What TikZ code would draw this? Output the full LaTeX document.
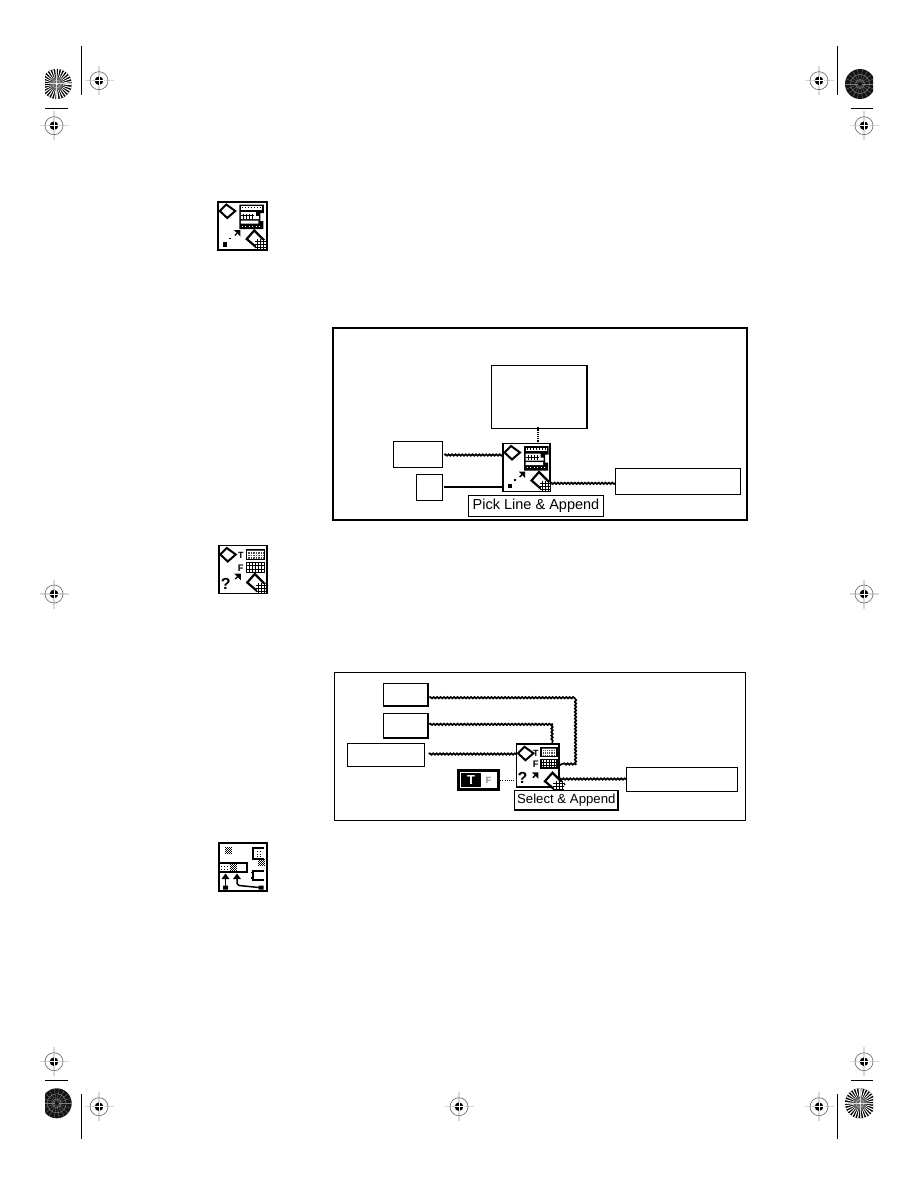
\documentclass[tikz,border=0pt]{standalone}
\usepackage{fontspec}
\setmainfont{Liberation Sans}
\usetikzlibrary{decorations.pathmorphing}
\tikzset{
  x=1pt,y=-1pt,
  box/.style={draw=black,fill=white,line width=1.3pt,inner sep=0pt,outer sep=0pt,rectangle},
  frame/.style={draw=black,line width=1.9pt},
  iconbox/.style={draw=black,fill=white,line width=1.6pt,inner sep=0pt,outer sep=0pt,rectangle},
  lbl/.style={draw=black,fill=white,line width=1pt,inner sep=0pt,outer sep=0pt,font=\fontsize{14.5}{14.5}\selectfont},
  strwire/.style={line width=1.7pt,decorate,decoration={snake,segment length=3.4pt,amplitude=0.7pt}},
  dblwire/.style={line width=1.7pt},
  dotwire/.style={line width=1pt,dash pattern=on 1pt off 1.2pt},
  fatdot/.style={line width=2.8pt,dash pattern=on 1.2pt off 1pt},
  crop/.style={line width=1pt,black},
  hairc/.style={line width=1.1pt,black!15},
  ringc/.style={line width=.6pt,black!60},
  iconln/.style={line width=2pt,black},
  pics/regmark/.style={code={
    \draw[hairc] (-14.5,0)--(14.5,0) (0,-14.5)--(0,14.5);
    \draw[ringc] (0,0) circle[radius=9];
    \fill[black] (0,0) circle[radius=4.3];
    \draw[white,line width=.7pt] (-4.5,0)--(4.5,0) (0,-4.5)--(0,4.5);
  }},
  pics/raystar/.style={code={
    \fill[black] (0,0) circle[radius=15];
    \foreach \a in {0,12,...,348}{
      \fill[white] (0,0) -- (\a:15) arc[start angle=\a,end angle=\a+5,radius=15] -- cycle;
    }
    \fill[black!60] (0,0) circle[radius=6.5];
    \draw[black!35,line width=.8pt] (0,0) circle[radius=4];
    \draw[white!85!black,line width=1pt] (-15,0)--(15,0) (0,-15)--(0,15);
    \fill[white] (0,0) circle[radius=1.3];
  }},
  pics/darkstar/.style={code={
    \fill[black!92] (0,0) circle[radius=15];
    \foreach \a in {0,20,...,340}{
      \draw[black!50,line width=.3pt] (\a:2)--(\a:15);
    }
    \draw[black!50,line width=.5pt] (0,0) circle[radius=4.5] (0,0) circle[radius=9.5];
  }},
  pics/updiamond/.style={code={
    \draw[iconln,fill=white,line join=miter] (1.5,9)--(8,2.5)--(17,9)--(9,16)--cycle;
  }},
  pics/lowdiamond/.style={code={
    \draw[iconln,line width=2.2pt,fill=white] (28.5,37)--(36,28.5)--(47.5,40)--(40,47)--cycle;
    \fill[white] (38,38) rectangle (47.3,47.3);
    \draw[black,line width=.9pt] (37,39.5)--(47.3,39.5) (37,42.5)--(47.3,42.5) (37,45.5)--(47.3,45.5)
       (39.5,37)--(39.5,47.3) (42.5,37)--(42.5,47.3) (45.5,37)--(45.5,47.3);
  }},
  pics/arrowdot/.style={code={
    \fill[black] (15.5,28) -- (22,28) -- (22,34.5) -- cycle;
    \draw[black,line width=1.4pt] (19,31)--(16.5,33.5);
  }},
  pics/pickicon/.style={code={
    \pic {updiamond};
    \pic {lowdiamond};
    \pic {arrowdot};
    \fill[black] (5,40) rectangle (9,44.5);
    \fill[black] (11,35.5) rectangle (12.5,37);
    \fill[black] (21,2.5) rectangle (45.5,11) (21,11) rectangle (42,19) (21,19) rectangle (45,27);
    \fill[white] (22.5,4) rectangle (44,7.5);
    \foreach \k in {23.5,26.5,...,43}{\fill[black] (\k,4.8) rectangle ++(1.3,1.3);}
    \fill[white] (22.5,10) rectangle (37.5,17) (37,14) rectangle (40.5,17) (22.5,18.5) rectangle (40,21.5);
    \foreach \k in {25,28,...,36}{\fill[black] (\k,11.5) rectangle ++(1,5);}
    \fill[black] (22.5,13.2) rectangle (36,14.4);
    \foreach \k in {23.5,27,...,42}{\fill[white] (\k,23.5) rectangle ++(1.2,1.2);}
  }},
  pics/selicon/.style={code={
    \pic {updiamond};
    \pic {lowdiamond};
    \pic {arrowdot};
    \node (-T) at (22,10) [inner sep=0pt,font=\bfseries\fontsize{9}{9}\selectfont] {T};
    \node (-F) at (22,23) [inner sep=0pt,font=\bfseries\fontsize{9.5}{9.5}\selectfont] {F};
    \node (-Q) at (7,38) [inner sep=0pt,font=\bfseries\fontsize{16}{16}\selectfont] {?};
    \draw[black,fill=black!70,line width=1.4pt] (28,4) rectangle (46,14);
    \foreach \k in {29,31.5,...,45}{\draw[white,line width=.6pt] (\k,5)--(\k,13);}
    \foreach \k in {6,8.5,11}{\draw[white,line width=.6pt] (28.5,\k)--(45.5,\k);}
    \draw[black,fill=white,line width=1.4pt] (28,17) rectangle (46,27);
    \foreach \k in {31,34,37,40,43}{\draw[black,line width=.8pt] (\k,17)--(\k,27);}
    \foreach \k in {20.3,23.6}{\draw[black,line width=.8pt] (28,\k)--(46,\k);}
  }},
  pics/hatchbit/.style={code={
    \foreach \i in {0,2,4,6}{\foreach \j in {0,2,4,6}{\fill[black] (\i,\j) rectangle ++(1.1,1.1);}}
    \foreach \i in {1,3,5}{\foreach \j in {1,3,5}{\fill[black] (\i,\j) rectangle ++(1.1,1.1);}}
  }},
  pics/tblicon/.style={code={
    \pic at (6,4) {hatchbit};
    \pic at (39,16) {hatchbit};
    \draw[black,line width=1.4pt] (45,5)--(34,5)--(34,16)--(45,16);
    \foreach \i in {38,41}{\foreach \j in {8,10.5,13}{\fill[black] (\i,\j) rectangle ++(1.1,1.1);}}
    \draw[black,line width=1.4pt] (45,28)--(34,28)--(34,37)--(45,37);
    \draw[black,line width=1.4pt] (34,29.5)--(32,29.5) (34,35)--(32,35);
    \draw[black,line width=1.6pt] (0,20)--(28,20)--(28,29)--(0,29);
    \pic at (11,20.5) {hatchbit};
    \foreach \i in {2,5,8}{\foreach \j in {23,26}{\fill[black] (\i,\j) rectangle ++(1.2,1.2);}}
    \fill[black] (4,42.5) rectangle (9,46.5) (39.5,42.5) rectangle (44.5,46.5);
    \draw[black,line width=1.5pt] (6.5,43)--(6.5,34);
    \fill[black] (2.5,36)--(6.5,30.5)--(10.5,36)--cycle;
    \fill[black] (14,36)--(18,30.5)--(22,36)--cycle;
    \draw[black,line width=1.5pt] (18,34)--(18,40.5)--(20,42.5)--(40,44.5);
  }},
}
\begin{document}
\begin{tikzpicture}
\useasboundingbox (0,0) rectangle (918,1188);
\fill[white] (0,0) rectangle (918,1188);

% --- printer's marks
\foreach \p/\q in {99/80.7,54/125.7,819/80.7,864/125.7,54/594,864/594,54/1061.7,99/1106.7,864/1061.7,819/1106.7,459/1106.7}{
  \pic at (\p,\q) {regmark};
}
\begin{scope}
  \clip (45,60) rectangle (873,1130);
  \pic at (56.7,84) {raystar};
  \pic at (860,84) {darkstar};
  \pic at (56.7,1103.3) {darkstar};
  \pic at (860,1103.3) {raystar};
\end{scope}
\draw[crop] (81.3,46)--(81.3,95) (837.3,46)--(837.3,95) (81.3,1094)--(81.3,1139) (837.3,1094)--(837.3,1139);
\draw[crop] (45,108.3)--(68,108.3) (851,108.3)--(873,108.3) (45,1080)--(68,1080) (851,1080)--(873,1080);

% --- margin icons
\node[iconbox,minimum width=48.5pt,minimum height=48pt] (m1) at (242.5,226) {};
\pic at (m1.north west) {pickicon};
\node[iconbox,minimum width=48.5pt,minimum height=48pt] (m2) at (243,569.5) {};
\pic (ms) at (m2.north west) {selicon};
\node[iconbox,minimum width=48pt,minimum height=48pt] (m3) at (243,867) {};
\pic at (m3.north west) {tblicon};

% --- first diagram
\node[frame,rectangle,inner sep=0pt,minimum width=414.5pt,minimum height=192pt] (f1) at (540,424) {};
\node[box,minimum width=95.5pt,minimum height=63.5pt] (a1) at (539,397) {};
\node[box,minimum width=49.5pt,minimum height=25.5pt] (a2) at (418,454.5) {};
\node[box,minimum width=26.5pt,minimum height=26.5pt] (a3) at (429.5,487.5) {};
\node[box,minimum width=125.5pt,minimum height=25.5pt] (a4) at (678,481.5) {};
\node[iconbox,minimum width=47pt,minimum height=48pt] (i1) at (526.5,467.5) {};
\pic at (i1.north west) {pickicon};
\node[lbl,minimum width=135pt,minimum height=21pt] (l1) at (536,506) {\raisebox{-1pt}{Pick Line \& Append}};
\draw[line width=1.8pt] (a1.south east)--(a1.north east);
\draw[line width=1.8pt] (l1.south west)--(l1.south east)--(l1.north east);
\coordinate (y1) at (0,455);
\coordinate (y2) at (0,486.7);
\coordinate (y3) at (0,483.3);
\coordinate (x1) at (538,0);
\draw[strwire] ([xshift=1.5pt]a2.east |- y1) -- (i1.west |- y1);
\draw[dblwire] ([xshift=1.5pt]a3.east |- y2) -- (i1.west |- y2);
\draw[strwire] (i1.east |- y3) -- (a4.west |- y3);
\draw[fatdot] ([yshift=1.5pt]x1 |- a1.south) -- (x1 |- i1.north);

% --- second diagram
\node[frame,line width=1.3pt,rectangle,inner sep=0pt,minimum width=411.5pt,minimum height=147.5pt] (f2) at (540,746.5) {};
\node[box,minimum width=44.5pt,minimum height=23pt] (b1) at (405.5,694.8) {};
\node[box,minimum width=44.5pt,minimum height=24.5pt] (b2) at (405.5,725.5) {};
\node[box,minimum width=77.5pt,minimum height=23pt] (b3) at (386,754.8) {};
\node[box,line width=1pt,minimum width=111.5pt,minimum height=24.5pt] (b4) at (682,779.5) {};
\draw[line width=1.7pt] (b1.south west)--(b1.south east)--(b1.north east);
\draw[line width=1.7pt] (b2.south west)--(b2.south east)--(b2.north east);
\node[draw=black,fill=white,line width=3pt,rectangle,inner sep=0pt,minimum width=40pt,minimum height=19pt] (tg) at (478.7,780.2) {};
\node[fill=black,text=white,inner sep=0pt,minimum width=19.5pt,minimum height=14pt,font=\bfseries\fontsize{13}{13}\selectfont] (tgT) at (471,780.2) {T};
\node[inner sep=0pt,text=black!70,font=\fontsize{9}{9}\selectfont] (tgF) at (488.5,780.2) {F};
\node[iconbox,minimum width=42.5pt,minimum height=42.5pt] (i2) at (537.7,765.5) {};
\pic[scale=0.88] (is) at (i2.north west) {selicon};
\node[lbl,font=\fontsize{13.2}{13.2}\selectfont,minimum width=104pt,minimum height=19.7pt] (l2) at (566.3,800.2) {\raisebox{-1pt}{Select \& Append}};
\draw[line width=1.8pt] (l2.south west)--(l2.south east)--(l2.north east);
\coordinate (w1) at (0,697.7);
\coordinate (w2) at (0,724.3);
\coordinate (w3) at (0,754);
\coordinate (w4) at (0,780.3);
\coordinate (w5) at (0,779);
\coordinate (c1) at (573.3,765);
\coordinate (c2) at (552.3,724.3);
\draw[strwire] ([xshift=1.5pt]b1.east |- w1) -- (c1 |- w1) -- (c1) -- (i2.east |- c1);
\draw[strwire] ([xshift=1.5pt]b2.east |- w2) -- (c2) -- (c2 |- i2.north);
\draw[strwire] ([xshift=4pt]b3.east |- w3) -- (i2.west |- w3);
\draw[dotwire] (tg.east |- w4) -- (i2.west |- w4);
\draw[strwire] (i2.east |- w5) -- (b4.west |- w5);
\end{tikzpicture}
\end{document}
